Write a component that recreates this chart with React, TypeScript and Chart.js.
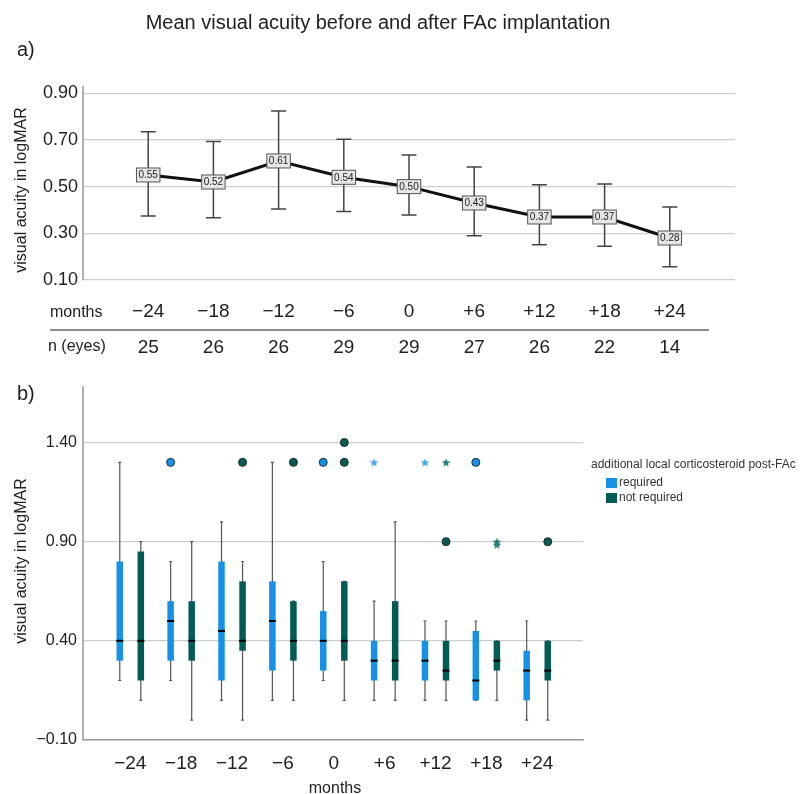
import React, { useEffect, useRef } from "react";
import { Chart, registerables } from "chart.js";
Chart.register(...registerables);

const FONT = '"Liberation Sans", Arial, Helvetica, sans-serif';
const TEXT = "#222";

// ---------- Panel a data ----------
const monthLabels = ["\u221224", "\u221218", "\u221212", "\u22126", "0", "+6", "+12", "+18", "+24"];
const nEyes = [25, 26, 26, 29, 29, 27, 26, 22, 14];
const meanVA = [0.55, 0.52, 0.61, 0.54, 0.5, 0.43, 0.37, 0.37, 0.28];
const errUpper = [0.735, 0.693, 0.824, 0.703, 0.636, 0.584, 0.508, 0.511, 0.413];
const errLower = [0.374, 0.367, 0.404, 0.393, 0.378, 0.29, 0.251, 0.245, 0.157];
const aTicks = [0.1, 0.3, 0.5, 0.7, 0.9];

// ---------- Panel b data ----------
const bTicks = [-0.1, 0.4, 0.9, 1.4];
// required (blue)
const reqMin = [0.2, 0.2, 0.1, 0.1, 0.2, 0.1, 0.1, 0.1, 0.0];
const reqQ1 = [0.3, 0.3, 0.2, 0.25, 0.25, 0.2, 0.2, 0.1, 0.1];
const reqMed = [0.4, 0.5, 0.45, 0.5, 0.4, 0.3, 0.3, 0.2, 0.25];
const reqQ3 = [0.8, 0.6, 0.8, 0.7, 0.55, 0.4, 0.4, 0.45, 0.35];
const reqMax = [1.3, 0.8, 1.0, 1.3, 0.8, 0.6, 0.5, 0.5, 0.5];
// not required (green)
const notMin = [0.1, 0.0, 0.0, 0.1, 0.1, 0.1, 0.1, 0.1, 0.0];
const notQ1 = [0.2, 0.3, 0.35, 0.3, 0.3, 0.2, 0.2, 0.25, 0.2];
const notMed = [0.4, 0.4, 0.4, 0.4, 0.4, 0.3, 0.25, 0.3, 0.25];
const notQ3 = [0.85, 0.6, 0.7, 0.6, 0.7, 0.6, 0.4, 0.4, 0.4];
const notMax = [0.9, 0.9, 0.8, 0.6, 0.7, 1.0, 0.5, 0.4, 0.4];
// outliers
const reqCircleGroup = [1, 4, 7];
const reqCircleValue = [1.3, 1.3, 1.3];
const reqStarGroup = [5, 6];
const reqStarValue = [1.3, 1.3];
const notCircleGroup = [2, 3, 4, 4, 6, 8];
const notCircleValue = [1.3, 1.3, 1.3, 1.4, 0.9, 0.9];
const notStarGroup = [6, 7, 7];
const notStarValue = [1.3, 0.9, 0.885];

const BLUE = "#1791e6";
const GREEN = "#035b56";
const OFF = 0.207;

const fmt = (v: number) => (v < 0 ? "\u2212" + Math.abs(v).toFixed(2) : v.toFixed(2));

function makeStar(color: string, size: number) {
  const c = document.createElement("canvas");
  c.width = size;
  c.height = size;
  const g = c.getContext("2d") as CanvasRenderingContext2D;
  const cx = size / 2, cy = size / 2 + 0.5, R = size / 2 - 0.5, r = R * 0.45;
  g.beginPath();
  for (let k = 0; k < 10; k++) {
    const rad = k % 2 === 0 ? R : r;
    const a = -Math.PI / 2 + (k * Math.PI) / 5;
    const px = cx + rad * Math.cos(a), py = cy + rad * Math.sin(a);
    if (k === 0) g.moveTo(px, py); else g.lineTo(px, py);
  }
  g.closePath();
  g.fillStyle = color;
  g.fill();
  return c;
}

const panelAPlugin = {
  id: "panelA",
  beforeDatasetsDraw(chart: any) {
    const { ctx, scales } = chart;
    const x = scales.x, y = scales.y;
    ctx.save();
    ctx.strokeStyle = "#444";
    ctx.lineWidth = 1.5;
    meanVA.forEach((_, i) => {
      const px = x.getPixelForValue(i + 1);
      const yt = y.getPixelForValue(errUpper[i]);
      const yb = y.getPixelForValue(errLower[i]);
      ctx.beginPath();
      ctx.moveTo(px, yt); ctx.lineTo(px, yb);
      ctx.moveTo(px - 7.5, yt); ctx.lineTo(px + 7.5, yt);
      ctx.moveTo(px - 7.5, yb); ctx.lineTo(px + 7.5, yb);
      ctx.stroke();
    });
    ctx.restore();
  },
  afterDatasetsDraw(chart: any) {
    const { ctx, scales } = chart;
    const x = scales.x, y = scales.y;
    ctx.save();
    ctx.font = `10px ${FONT}`;
    ctx.textAlign = "center";
    ctx.textBaseline = "middle";
    meanVA.forEach((v, i) => {
      const px = x.getPixelForValue(i + 1);
      const py = y.getPixelForValue(v);
      const label = v.toFixed(2);
      const w = ctx.measureText(label).width + 4;
      const h = 14;
      ctx.fillStyle = "#e6e6e6";
      ctx.fillRect(px - w / 2, py - h / 2, w, h);
      ctx.strokeStyle = "#555";
      ctx.lineWidth = 1;
      ctx.strokeRect(px - w / 2, py - h / 2, w, h);
      ctx.fillStyle = "#222";
      ctx.fillText(label, px, py + 0.5);
    });
    ctx.restore();
  },
  afterDraw(chart: any) {
    const { ctx, scales } = chart;
    const x = scales.x;
    ctx.save();
    ctx.fillStyle = TEXT;
    // title
    ctx.font = `20px ${FONT}`;
    ctx.textAlign = "center";
    ctx.textBaseline = "alphabetic";
    ctx.fillText("Mean visual acuity before and after FAc implantation", 378, 29);
    // a)
    ctx.font = `20px ${FONT}`;
    ctx.textAlign = "left";
    ctx.textBaseline = "middle";
    ctx.fillText("a)", 17, 50);
    // y title
    ctx.save();
    ctx.translate(22, 190);
    ctx.rotate(-Math.PI / 2);
    ctx.font = `16px ${FONT}`;
    ctx.textAlign = "center";
    ctx.textBaseline = "middle";
    ctx.fillText("visual acuity in logMAR", 0, 0);
    ctx.restore();
    // table
    ctx.font = `16px ${FONT}`;
    ctx.textAlign = "left";
    ctx.textBaseline = "middle";
    ctx.fillText("months", 50, 313);
    ctx.fillText("n (eyes)", 48, 347);
    ctx.font = `19px ${FONT}`;
    ctx.textAlign = "center";
    monthLabels.forEach((m, i) => {
      const px = x.getPixelForValue(i + 1);
      ctx.fillText(m, px, 312);
      ctx.fillText(String(nEyes[i]), px, 348);
    });
    ctx.strokeStyle = "#666";
    ctx.lineWidth = 1.5;
    ctx.beginPath();
    ctx.moveTo(50, 330);
    ctx.lineTo(709, 330);
    ctx.stroke();
    ctx.restore();
  },
};

const panelBPlugin = {
  id: "panelB",
  beforeDatasetsDraw(chart: any) {
    const { ctx, scales } = chart;
    const x = scales.x, y = scales.y;
    ctx.save();
    ctx.strokeStyle = "#555";
    ctx.lineWidth = 1.2;
    const drawW = (g: number, lo: number, hi: number) => {
      const px = x.getPixelForValue(g);
      const yl = y.getPixelForValue(lo);
      const yh = y.getPixelForValue(hi);
      ctx.beginPath();
      ctx.moveTo(px, yl); ctx.lineTo(px, yh);
      ctx.moveTo(px - 1.5, yl); ctx.lineTo(px + 1.5, yl);
      ctx.moveTo(px - 1.5, yh); ctx.lineTo(px + 1.5, yh);
      ctx.stroke();
    };
    for (let i = 0; i < reqMin.length; i++) {
      drawW(i - OFF, reqMin[i], reqMax[i]);
      drawW(i + OFF, notMin[i], notMax[i]);
    }
    ctx.restore();
  },
  afterDatasetsDraw(chart: any) {
    const { ctx, scales } = chart;
    const x = scales.x, y = scales.y;
    ctx.save();
    ctx.strokeStyle = "#000";
    ctx.lineWidth = 2;
    const drawM = (g: number, v: number) => {
      const px = x.getPixelForValue(g);
      const py = y.getPixelForValue(v);
      ctx.beginPath();
      ctx.moveTo(px - 3.5, py);
      ctx.lineTo(px + 3.5, py);
      ctx.stroke();
    };
    for (let i = 0; i < reqMed.length; i++) {
      drawM(i - OFF, reqMed[i]);
      drawM(i + OFF, notMed[i]);
    }
    ctx.restore();
  },
  afterDraw(chart: any) {
    const { ctx } = chart;
    ctx.save();
    ctx.fillStyle = TEXT;
    // b)
    ctx.font = `20px ${FONT}`;
    ctx.textAlign = "left";
    ctx.textBaseline = "middle";
    ctx.fillText("b)", 17, 24);
    // y title
    ctx.save();
    ctx.translate(22, 191);
    ctx.rotate(-Math.PI / 2);
    ctx.font = `16px ${FONT}`;
    ctx.textAlign = "center";
    ctx.textBaseline = "middle";
    ctx.fillText("visual acuity in logMAR", 0, 0);
    ctx.restore();
    // x title
    ctx.font = `16px ${FONT}`;
    ctx.textAlign = "center";
    ctx.textBaseline = "alphabetic";
    ctx.fillText("months", 335, 423);
    // legend
    ctx.font = `12px ${FONT}`;
    ctx.textAlign = "left";
    ctx.textBaseline = "middle";
    ctx.fillStyle = "#333";
    ctx.fillText("additional local corticosteroid post-FAc", 591, 95);
    ctx.fillStyle = BLUE;
    ctx.fillRect(606, 108, 11, 10);
    ctx.fillStyle = GREEN;
    ctx.fillRect(606, 123, 11, 10);
    ctx.fillStyle = "#333";
    ctx.fillText("required", 619, 113);
    ctx.fillText("not required", 619, 128);
    ctx.restore();
  },
};

function PanelA() {
  const ref = useRef<HTMLCanvasElement>(null);
  useEffect(() => {
    const chart = new Chart(ref.current as HTMLCanvasElement, {
      type: "line",
      data: {
        datasets: [
          {
            data: meanVA.map((v, i) => ({ x: i + 1, y: v })),
            borderColor: "#111",
            borderWidth: 3,
            pointRadius: 0,
            tension: 0,
          },
        ],
      },
      options: {
        responsive: false,
        animation: false,
        events: [],
        layout: { padding: { left: 0, right: 65, top: 87, bottom: 90 } },
        plugins: { legend: { display: false }, tooltip: { enabled: false }, title: { display: false } },
        scales: {
          x: { type: "linear", min: 0, max: 10, display: false },
          y: {
            type: "linear",
            min: 0.1,
            max: 0.927,
            grid: { color: "#cfcfcf", lineWidth: 1.2, drawTicks: false },
            border: { color: "#b0b0b0", width: 2 },
            ticks: {
              font: { family: FONT, size: 18 },
              color: TEXT,
              padding: 5,
              callback: (v: any) => fmt(Number(v)),
            },
            afterBuildTicks: (s: any) => {
              s.ticks = aTicks.map((v) => ({ value: v }));
            },
            afterFit: (s: any) => {
              s.width = 83;
            },
          },
        },
      } as any,
      plugins: [panelAPlugin],
    } as any);
    return () => chart.destroy();
  }, []);
  return (
    <canvas
      ref={ref}
      width={800}
      height={370}
      style={{ position: "absolute", left: 0, top: 0, width: 800, height: 370 }}
    />
  );
}

function PanelB() {
  const ref = useRef<HTMLCanvasElement>(null);
  useEffect(() => {
    const pts = (gs: number[], vs: number[], off: number) => gs.map((g, i) => ({ x: g + off, y: vs[i] }));
    const blueStar = makeStar("#4aa9ee", 10);
    const greenStar = makeStar("#2a7f78", 10);
    const chart = new Chart(ref.current as HTMLCanvasElement, {
      type: "bar",
      data: {
        datasets: [
          {
            type: "bar",
            label: "required",
            data: reqQ1.map((q, i) => ({ x: i - OFF, y: [q, reqQ3[i]] })),
            backgroundColor: BLUE,
            borderWidth: 0,
            grouped: false,
            maxBarThickness: 6.5,
          },
          {
            type: "bar",
            label: "not required",
            data: notQ1.map((q, i) => ({ x: i + OFF, y: [q, notQ3[i]] })),
            backgroundColor: GREEN,
            borderWidth: 0,
            grouped: false,
            maxBarThickness: 6.5,
          },
          {
            type: "scatter",
            data: pts(reqCircleGroup, reqCircleValue, -OFF),
            pointStyle: "circle",
            pointRadius: 4,
            backgroundColor: BLUE,
            borderColor: "#1d2a38",
            borderWidth: 1,
          },
          {
            type: "scatter",
            data: pts(notCircleGroup, notCircleValue, OFF),
            pointStyle: "circle",
            pointRadius: 4,
            backgroundColor: "#0d5a55",
            borderColor: "#1d2b2b",
            borderWidth: 1,
          },
          {
            type: "scatter",
            data: pts(reqStarGroup, reqStarValue, -OFF),
            pointStyle: blueStar,
            pointRadius: 5,
          },
          {
            type: "scatter",
            data: pts(notStarGroup, notStarValue, OFF),
            pointStyle: greenStar,
            pointRadius: 5,
          },
        ],
      },
      options: {
        responsive: false,
        animation: false,
        events: [],
        layout: { padding: { left: 0, right: 217, top: 17, bottom: 0 } },
        plugins: { legend: { display: false }, tooltip: { enabled: false }, title: { display: false } },
        scales: {
          x: {
            type: "linear",
            min: -0.93,
            max: 8.9,
            offset: false,
            grid: { display: false, drawTicks: false },
            border: { display: true, color: "#999", width: 1.5 },
            ticks: {
              font: { family: FONT, size: 19 },
              color: TEXT,
              padding: 12,
              maxRotation: 0,
              autoSkip: false,
              callback: (v: any) => monthLabels[Math.round(Number(v))],
            },
            afterBuildTicks: (s: any) => {
              s.ticks = monthLabels.map((_, i) => ({ value: i }));
            },
            afterFit: (s: any) => {
              s.height = 54;
            },
          },
          y: {
            type: "linear",
            min: -0.1,
            max: 1.68,
            grid: { color: "#cfcfcf", lineWidth: 1.2, drawTicks: false },
            border: { color: "#b0b0b0", width: 2 },
            ticks: {
              font: { family: FONT, size: 16 },
              color: TEXT,
              padding: 6,
              callback: (v: any) => fmt(Number(v)),
            },
            afterBuildTicks: (s: any) => {
              s.ticks = bTicks.map((v) => ({ value: v }));
            },
            afterFit: (s: any) => {
              s.width = 83;
            },
          },
        },
      } as any,
      plugins: [panelBPlugin],
    } as any);
    return () => chart.destroy();
  }, []);
  return (
    <canvas
      ref={ref}
      width={800}
      height={424}
      style={{ position: "absolute", left: 0, top: 370, width: 800, height: 424 }}
    />
  );
}

export default function App() {
  return (
    <div style={{ position: "absolute", left: 0, top: 0, width: 800, height: 794, background: "#fff", overflow: "hidden" }}>
      <PanelA />
      <PanelB />
    </div>
  );
}
